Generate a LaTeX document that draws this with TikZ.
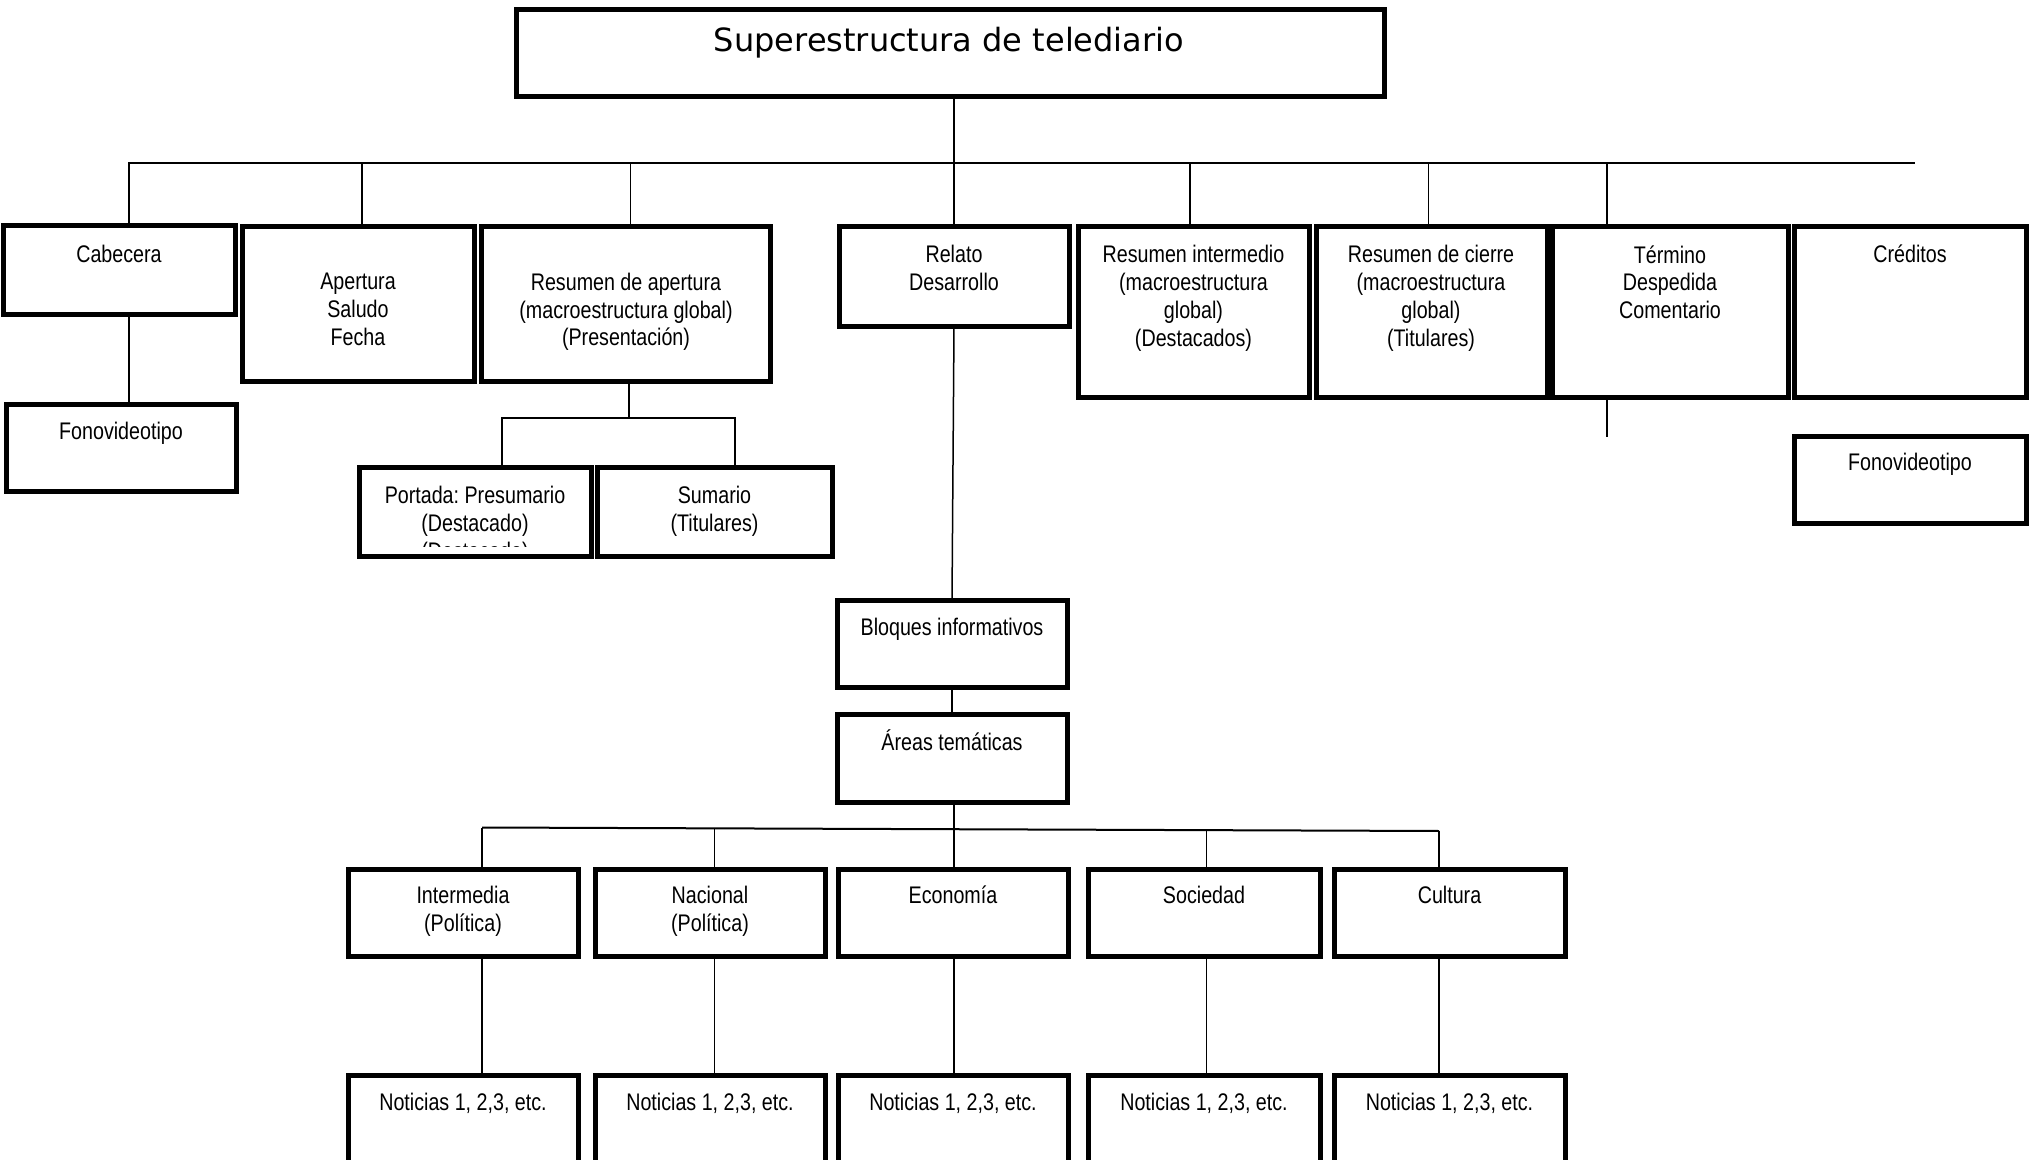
\documentclass[tikz,border=0pt]{standalone}
\usepackage{fontspec}
\setmainfont{Liberation Sans}[FakeStretch=0.82]
\newfontfamily\titlefont{DejaVu Sans}
\usetikzlibrary{calc}
\frenchspacing
\tikzset{
  box/.style={draw=black, line width=2.5pt, rectangle, inner sep=0pt, outer sep=0pt, anchor=north west},
  txt/.style={anchor=north, inner sep=0pt, align=center, font=\fontsize{12pt}{13.9pt}\selectfont, execute at begin node={\rule{0pt}{11pt}}},
  ttl/.style={anchor=north, inner sep=0pt, font=\titlefont\fontsize{16pt}{19pt}\selectfont, execute at begin node={\rule{0pt}{14.7pt}}},
  conn/.style={line width=0.75pt, draw=black},
  bus/.style={line width=1pt, draw=black},
}
% name x1 y1 x2 y2 (pixels, centre line of border)
\newcommand\mybox[5]{\node[box, minimum width={(#4-#2)*0.5pt}, minimum height={(#5-#3)*0.5pt}] (#1) at (#2,#3) {};}
\begin{document}
\begin{tikzpicture}[x=0.5pt, y=-0.5pt]
\useasboundingbox (0,0) rectangle (2040,1160);
\clip (0,0) rectangle (2040,1160);

% title
\mybox{title}{516}{10}{1384}{97}
\node[ttl] (title-t) at (949,21.5) {Superestructura de telediario};

% level 1
\mybox{cab}{3}{226}{235}{315}
\mybox{ape}{242}{227}{474}{382}
\mybox{resap}{481}{227}{770}{382}
\mybox{rel}{839}{227}{1069}{327}
\mybox{resint}{1078}{227}{1309}{398}
\mybox{cie}{1316}{227}{1547}{398}
\mybox{ter}{1552}{227}{1788}{398}
\mybox{cre}{1794}{227}{2026}{398}

\node[txt] (cab-t) at (119,240) {Cabecera};
\node[txt] (ape-t) at (358,272.5) {Apertura\\Saludo\\Fecha};
\node[txt] (resap-t) at (626,272.5) {Resumen de apertura\\(macroestructura global)\\(Presentación)};
\node[txt] (rel-t) at (954,245) {Relato\\Desarrollo};
\node[txt] (resint-t) at (1193.5,245) {Resumen intermedio\\(macroestructura\\global)\\(Destacados)};
\node[txt] (cie-t) at (1431,245) {Resumen de cierre\\(macroestructura\\global)\\(Titulares)};
\node[txt] (ter-t) at (1670,245) {Término\\Despedida\\Comentario};
\node[txt] (cre-t) at (1910,240) {Créditos};

% second level left / right
\mybox{fono1}{6}{405}{236}{492}
\node[txt] (fono1-t) at (121,417.5) {Fonovideotipo};
\mybox{fono2}{1794}{437}{2026}{523}
\node[txt] (fono2-t) at (1910,448.5) {Fonovideotipo};

\mybox{port}{359}{468}{591}{556}
\mybox{sum}{597}{468}{832}{556}
\begin{scope}
  \clip (359,468) rectangle (591,546);
  \node[txt] (port-t) at (475,486) {Portada: Presumario\\(Destacado)\\(Destacado)};
\end{scope}
\node[txt] (sum-t) at (714.5,486) {Sumario\\(Titulares)};

% central column
\mybox{blo}{837}{600}{1067}{687}
\node[txt] (blo-t) at (952,613) {Bloques informativos};
\mybox{are}{837}{714}{1067}{802}
\node[txt] (are-t) at (952,728) {Áreas temáticas};

% thematic areas
\mybox{int}{348}{869}{578}{956}
\mybox{nac}{595}{869}{825}{956}
\mybox{eco}{838}{869}{1068}{956}
\mybox{soc}{1088}{869}{1320}{956}
\mybox{cul}{1334}{869}{1565}{956}
\node[txt] (int-t) at (463,885.5) {Intermedia\\(Política)};
\node[txt] (nac-t) at (710,885.5) {Nacional\\(Política)};
\node[txt] (eco-t) at (953,881.5) {Economía};
\node[txt] (soc-t) at (1204,881.5) {Sociedad};
\node[txt] (cul-t) at (1449.5,881.5) {Cultura};

% news
\mybox{n1}{348}{1075}{578}{1200}
\mybox{n2}{595}{1075}{825}{1200}
\mybox{n3}{838}{1075}{1068}{1200}
\mybox{n4}{1088}{1075}{1320}{1200}
\mybox{n5}{1334}{1075}{1565}{1200}
\node[txt] (n1-t) at (463,1088.5) {Noticias 1, 2,3, etc.};
\node[txt] (n2-t) at (710,1088.5) {Noticias 1, 2,3, etc.};
\node[txt] (n3-t) at (953,1088.5) {Noticias 1, 2,3, etc.};
\node[txt] (n4-t) at (1204,1088.5) {Noticias 1, 2,3, etc.};
\node[txt] (n5-t) at (1449.5,1088.5) {Noticias 1, 2,3, etc.};

% ---- connectors ----
\coordinate (busL) at (128,163);
\coordinate (busR) at (1915,163);
\draw[conn] (busL) -- (busR);
\draw[conn] (rel.north) -- (rel.north |- title.south);
\draw[conn] ([xshift=5pt]cab.north) -- ([xshift=5pt]cab.north |- busL);
\draw[conn] ([xshift=2pt]ape.north) -- ([xshift=2pt]ape.north |- busL);
\draw[conn] ([xshift=2.4pt]resap.north) -- ([xshift=2.4pt]resap.north |- busL);
\draw[conn] ([xshift=-1.75pt]resint.north) -- ([xshift=-1.75pt]resint.north |- busL);
\draw[conn] ([xshift=-1.5pt]cie.north) -- ([xshift=-1.5pt]cie.north |- busL);
\draw[conn] ([xshift=-31.5pt]ter.north) -- ([xshift=-31.5pt]ter.north |- busL);
\coordinate (terEnd) at (1607,437);
\draw[conn] (terEnd |- ter.south) -- (terEnd);
\draw[conn] ([xshift=5pt]cab.south) -- ([xshift=5pt]cab.south |- fono1.north);

% resumen de apertura children
\coordinate (raJ) at (629,418);
\coordinate (raL) at (502,418);
\coordinate (raR) at (735,418);
\draw[conn] (raJ |- resap.south) -- (raJ);
\draw[conn] (raL |- port.north) -- (raL) -- (raR) -- (raR |- sum.north);

% central column
\draw[conn] (rel.south) -- (blo.north);
\draw[conn] (blo.south) -- (are.north);

% lower bus
\coordinate (bL) at (482,827.5);
\coordinate (bR) at (1439,831);
\coordinate (bN) at ($(bL)!0.243!(bR)$);
\coordinate (bE) at ($(bL)!0.4933!(bR)$);
\coordinate (bS) at ($(bL)!0.757!(bR)$);
\draw[bus] (bL) -- (bR);
\draw[conn] (bE |- are.south) -- (bE);
\draw[conn] (bL) -- (bL |- int.north);
\draw[conn] (bN) -- (bN |- nac.north);
\draw[conn] (bE) -- (bE |- eco.north);
\draw[conn] (bS) -- (bS |- soc.north);
\draw[conn] (bR) -- (bR |- cul.north);

% to news
\draw[conn] (bL |- int.south) -- (bL |- n1.north);
\draw[conn] (bN |- nac.south) -- (bN |- n2.north);
\draw[conn] (bE |- eco.south) -- (bE |- n3.north);
\draw[conn] (bS |- soc.south) -- (bS |- n4.north);
\draw[conn] (bR |- cul.south) -- (bR |- n5.north);
\end{tikzpicture}
\end{document}
